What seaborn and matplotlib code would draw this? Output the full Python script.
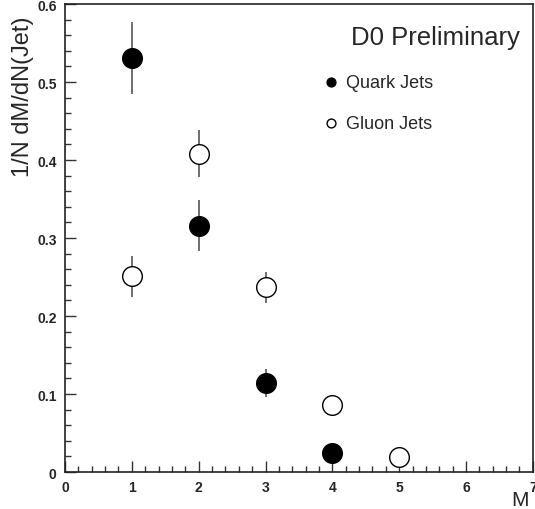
import numpy as np
import pandas as pd
import matplotlib
matplotlib.use("Agg")
import matplotlib.pyplot as plt
import seaborn as sns
from matplotlib.ticker import MultipleLocator

# ── data ──────────────────────────────────────────────────────────────
quark_m = [1, 2, 3, 4]
quark_y = [0.531, 0.316, 0.114, 0.024]
quark_err = [0.046, 0.033, 0.018, 0.006]

gluon_m = [1, 2, 3, 4, 5]
gluon_y = [0.251, 0.408, 0.237, 0.086, 0.019]
gluon_err = [0.026, 0.030, 0.020, 0.005, 0.011]

sns.set_style("ticks")
plt.rcParams["font.family"] = ["Liberation Sans", "DejaVu Sans"]

fig = plt.figure(figsize=(5.35, 5.10), dpi=100)
ax = fig.add_axes([0.1215, 0.0725, 0.8745, 0.9175])

quark = pd.DataFrame({"M": quark_m, "y": quark_y, "err": quark_err})
gluon = pd.DataFrame({"M": gluon_m, "y": gluon_y, "err": gluon_err})

# error bars first, markers on top
for df in (quark, gluon):
    ax.errorbar(df["M"], df["y"], yerr=df["err"], fmt="none",
                ecolor="#555555", elinewidth=1.2, capsize=0, zorder=2)

sns.scatterplot(data=quark, x="M", y="y", ax=ax, s=200, color="black",
                edgecolor="black", linewidth=1.0, zorder=3,
                label="Quark Jets")
sns.scatterplot(data=gluon, x="M", y="y", ax=ax, s=200, facecolor="white",
                edgecolor="black", linewidth=1.0, zorder=3,
                label="Gluon Jets")

ax.set_xlim(0, 7)
ax.set_ylim(0, 0.6)
ax.xaxis.set_major_locator(MultipleLocator(1))
ax.xaxis.set_minor_locator(MultipleLocator(0.2))
ax.yaxis.set_major_locator(MultipleLocator(0.1))
ax.yaxis.set_minor_locator(MultipleLocator(0.02))
ax.yaxis.set_major_formatter(plt.FuncFormatter(lambda v, p: "0" if v == 0 else f"{v:.1f}"))
ax.tick_params(which="both", direction="in", top=False, right=False,
               labelsize=10, width=1.0, color="#333333")
ax.tick_params(which="major", length=8, pad=6)
ax.tick_params(which="minor", length=4)
for lab in ax.get_xticklabels() + ax.get_yticklabels():
    lab.set_fontweight("bold")

for sp in ax.spines.values():
    sp.set_linewidth(1.2)
    sp.set_color("#222222")

ax.set_xlabel("M", fontsize=15, labelpad=0)
ax.xaxis.set_label_coords(0.972, -0.038)
ax.set_ylabel("1/N dM/dN(Jet)", fontsize=17)
ax.yaxis.set_label_coords(-0.066, 0.805)

ax.text(0.972, 0.929, "D0 Preliminary", transform=ax.transAxes,
        ha="right", va="center", fontsize=18.5)

leg = ax.legend(loc="upper left", bbox_to_anchor=(0.515, 0.885), frameon=False,
                fontsize=13, markerscale=0.45, labelspacing=1.3,
                handletextpad=0.3, handlelength=1.0)

fig.savefig("out.png", dpi=100)
